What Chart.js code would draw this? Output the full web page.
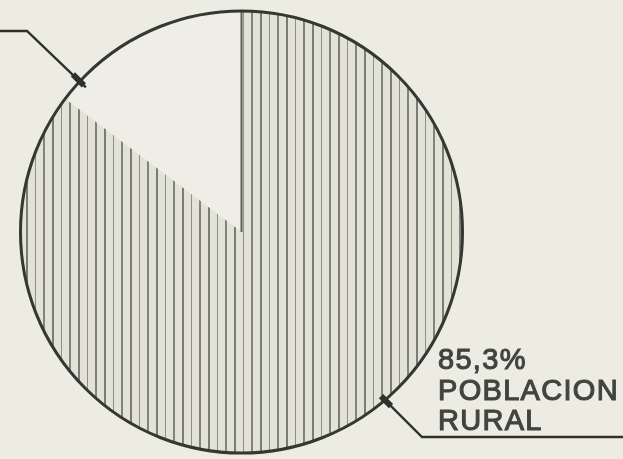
<!DOCTYPE html>
<html>
<head>
<meta charset="utf-8">
<script src="https://cdn.jsdelivr.net/npm/chart.js@4.4.1/dist/chart.umd.min.js"></script>
<style>
  html, body { margin: 0; padding: 0; background: #ecece3; }
  #wrap { width: 623px; height: 459px; }
</style>
</head>
<body>
<div id="wrap"><canvas id="pieChart" width="623" height="459"></canvas></div>
<script>
// Chart data
const categories = ['Población urbana', 'Población rural'];
const shares = [14.7, 85.3];
const ruralLabel = ['85,3%', 'POBLACION', 'RURAL'];

// vertical hatching used for the rural slice
function makeHatch() {
    const c = document.createElement('canvas');
    c.width = 26;
    c.height = 4;
    const g = c.getContext('2d');
    g.fillStyle = '#e2e2d7';
    g.fillRect(0, 0, 26, 4);
    g.fillStyle = '#7b7b75';
    g.fillRect(0, 0, 2, 4);
    g.fillStyle = '#8f8f89';
    g.fillRect(9, 0, 1, 4);
    g.fillStyle = '#83837d';
    g.fillRect(17, 0, 2, 4);
    return g.createPattern(c, 'repeat');
}

// outer circle, leader lines and the label
const outlinePlugin = {
    id: 'outline',
    afterDatasetsDraw(chart) {
        const ctx = chart.ctx;
        const arc = chart.getDatasetMeta(0).data[1];
        const { x, y, outerRadius, startAngle } = arc.getProps(['x', 'y', 'outerRadius', 'startAngle'], true);
        const r = outerRadius;
        const onCircle = (deg) => {
            const a = (deg - 90) * Math.PI / 180;
            return [x + r * Math.cos(a), y + r * Math.sin(a)];
        };

        ctx.save();
        // edge of rural slice (vertical line)
        ctx.strokeStyle = '#5f5f5a';
        ctx.lineWidth = 2;
        ctx.beginPath();
        ctx.moveTo(x, y);
        ctx.lineTo(x + r * Math.cos(startAngle), y + r * Math.sin(startAngle));
        ctx.stroke();

        // circle outline
        ctx.strokeStyle = '#363632';
        ctx.lineWidth = 3;
        ctx.beginPath();
        ctx.arc(x, y, r, 0, Math.PI * 2);
        ctx.stroke();

        // leader line top-left (label cut off)
        ctx.lineWidth = 2.4;
        ctx.strokeStyle = '#30302c';
        const p1 = onCircle(-47);
        ctx.beginPath();
        ctx.moveTo(0, 31);
        ctx.lineTo(27, 31);
        ctx.lineTo(p1[0] + 6, p1[1] + 6);
        ctx.stroke();
        ctx.lineWidth = 6;
        ctx.beginPath();
        ctx.moveTo(p1[0] - 7, p1[1] - 7);
        ctx.lineTo(p1[0] + 4, p1[1] + 4);
        ctx.stroke();

        // leader line bottom-right
        const p2 = onCircle(139.5);
        ctx.lineWidth = 2.4;
        ctx.beginPath();
        ctx.moveTo(p2[0] - 3, p2[1] - 3);
        ctx.lineTo(422, 437);
        ctx.lineTo(623, 437);
        ctx.stroke();
        ctx.lineWidth = 6;
        ctx.beginPath();
        ctx.moveTo(p2[0] - 4, p2[1] - 4);
        ctx.lineTo(p2[0] + 6, p2[1] + 6);
        ctx.stroke();

        // label text
        ctx.fillStyle = '#43433f';
        ctx.strokeStyle = '#43433f';
        ctx.lineWidth = 1.1;
        ctx.font = '29px "Liberation Sans", Arial, sans-serif';
        ctx.letterSpacing = '1.3px';
        ctx.textBaseline = 'alphabetic';
        const baselines = [369, 400, 430];
        ruralLabel.forEach((t, i) => {
            ctx.fillText(t, 438, baselines[i]);
            ctx.strokeText(t, 438, baselines[i]);
        });
        ctx.restore();
    }
};

function initializePieChart() {
    const canvas = document.getElementById('pieChart');
    if (!canvas) {
        console.warn('Pie chart canvas element is missing!');
        return;
    }
    new Chart(canvas.getContext('2d'), {
        type: 'pie',
        data: {
            labels: categories,
            datasets: [{
                data: shares,
                backgroundColor: ['#eeeee7', makeHatch()],
                borderWidth: 0
            }]
        },
        options: {
            responsive: false,
            animation: false,
            rotation: -shares[0] * 3.6, // urban slice ends at 12 o'clock
            layout: {
                padding: { left: 20, right: 160, top: 11, bottom: 6 }
            },
            plugins: {
                legend: { display: false },
                tooltip: { enabled: false }
            }
        },
        plugins: [outlinePlugin]
    });
}

initializePieChart();
</script>
</body>
</html>
